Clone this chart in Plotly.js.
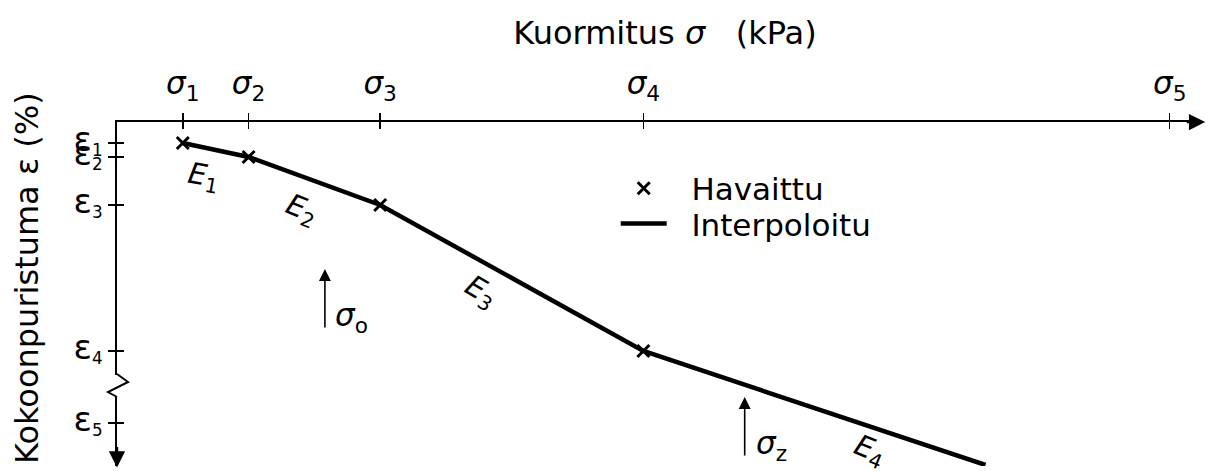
<!DOCTYPE html>
<html>
<head>
<meta charset="utf-8">
<script src="https://cdn.plot.ly/plotly-3.0.1.min.js"></script>
<style>
  html, body { margin: 0; padding: 0; background: #fff; }
  #chart { width: 1207px; height: 471px; }
</style>
</head>
<body>
<div id="chart"></div>
<script>
// Load steps (relative scale, doubling each step) and observed strains
const sigmaObs = [1, 2, 4, 8];
const epsObs = [1.05, 1.75, 4.15, 11.45];

// Interpolated curve: through the observed points, extended with slope E4
const sigmaLine = [1, 2, 4, 8, 13.2];
const epsLine = [1.05, 1.75, 4.15, 11.45, 17.15];

// Axis ticks
const sigmaTicks = [1, 2, 4, 8, 16];
const sigmaTickText = ['1', '2', '3', '4', '5'].map(n => '<i>σ</i><sub>' + n + '</sub>');
const epsTicks = [1.05, 1.75, 4.15, 11.45, 15.05];
const epsTickText = ['1', '2', '3', '4', '5'].map(n => '<span style="font-size:34px">ε</span><sub>' + n + '</sub>');

// Segment moduli labels
const modLabels = ['<i>E</i><sub>1</sub>', '<i>E</i><sub>2</sub>', '<i>E</i><sub>3</sub>', '<i>E</i><sub>4</sub>'];
const modSigma = [1.31, 2.80, 5.52, 11.44];
const modEps = [2.75, 4.40, 8.50, 16.45];
const modAngle = [10, 22, 31, 22];

// Reference stresses marked under the curve
const refLabels = ['<i>σ</i><sub>o</sub>', '<i>σ</i><sub>z</sub>'];
const refSigma = [3.16, 9.54];
const refEps = [7.35, 13.75];

const FONT = 'DejaVu Sans, Verdana, sans-serif';
const xRange = [0, 16.46];
const yRange = [17.2, 0];

const traces = [
  {
    x: sigmaObs, y: epsObs, xaxis: 'x2', yaxis: 'y2',
    type: 'scatter', mode: 'markers', name: '\u00a0\u00a0Havaittu', legend: 'legend',
    marker: { symbol: 'x-thin-open', size: 12, color: '#000', line: { width: 3, color: '#000' } },
    cliponaxis: false
  },
  {
    x: sigmaLine, y: epsLine, xaxis: 'x', yaxis: 'y',
    type: 'scatter', mode: 'lines', name: '\u00a0\u00a0Interpoloitu', legend: 'legend2',
    line: { color: '#000', width: 4.5 },
    cliponaxis: false
  }
];

const annotations = [];
// strain axis title, written along the axis
annotations.push({
  x: -0.0831, y: 0.5465, xref: 'paper', yref: 'paper',
  xanchor: 'center', yanchor: 'middle', textangle: -90,
  text: 'Kokoonpuristuma ε (%)', showarrow: false,
  font: { family: FONT, size: 32, color: '#000' }
});
modLabels.forEach((t, i) => {
  annotations.push({
    x: modSigma[i], y: modEps[i], xref: 'x', yref: 'y',
    text: t, showarrow: false, textangle: modAngle[i],
    font: { family: FONT, size: 29, color: '#000' }
  });
});
refLabels.forEach((t, i) => {
  // upward arrow pointing at the curve region
  annotations.push({
    x: refSigma[i], y: refEps[i], xref: 'x', yref: 'y',
    text: '', showarrow: true, arrowhead: 2, arrowsize: 1.5, arrowwidth: 1.6,
    arrowcolor: '#000', ax: 0, ay: 60, standoff: 0
  });
  annotations.push({
    x: refSigma[i], y: refEps[i], xref: 'x', yref: 'y',
    xshift: 27, yshift: -48, text: t, showarrow: false,
    font: { family: FONT, size: 31, color: '#000' }
  });
});
// axis arrowheads
annotations.push({
  x: 1.0048, y: 1, xref: 'paper', yref: 'paper', text: '',
  showarrow: true, arrowhead: 2, arrowsize: 1.3, arrowwidth: 2.5,
  arrowcolor: '#000', ax: -20, ay: 0, standoff: 0
});
annotations.push({
  x: 0, y: -0.004, xref: 'paper', yref: 'paper', text: '',
  showarrow: true, arrowhead: 2, arrowsize: 1.3, arrowwidth: 2.5,
  arrowcolor: '#000', ax: 0, ay: -22, standoff: 0
});

const shapes = [
  // break in the strain axis
  {
    type: 'rect', layer: 'above', xref: 'paper', yref: 'y',
    xsizemode: 'pixel', xanchor: 0, x0: -4, x1: 4,
    ysizemode: 'pixel', yanchor: 13.15, y0: -12, y1: 10,
    fillcolor: '#fff', line: { width: 0 }
  },
  {
    type: 'path', layer: 'above', xref: 'paper', yref: 'y',
    xsizemode: 'pixel', xanchor: 0, ysizemode: 'pixel', yanchor: 13.15,
    path: 'M0,11 L11,3 L-9,-7 L0,-12',
    line: { color: '#000', width: 2 }
  }
];

const axisCommon = {
  showgrid: false, zeroline: false, fixedrange: true,
  linecolor: '#000', tickcolor: '#000'
};

const legendCommon = {
  xanchor: 'left', yanchor: 'top',
  bgcolor: 'rgba(0,0,0,0)', borderwidth: 0,
  font: { family: FONT, size: 31, color: '#000' },
  itemwidth: 46
};

const layout = {
  width: 1207, height: 471,
  margin: { l: 117, r: 7, t: 122, b: 5, pad: 0 },
  paper_bgcolor: '#fff', plot_bgcolor: '#fff',
  font: { family: FONT, color: '#000' },
  title: {
    text: 'Kuormitus <i>σ</i>\u00a0\u00a0\u00a0(kPa)',
    x: 0.506, xref: 'paper', xanchor: 'center',
    y: 0.93, yref: 'container', yanchor: 'middle',
    font: { family: FONT, size: 32, color: '#000' }
  },
  xaxis: Object.assign({}, axisCommon, {
    side: 'top', range: xRange, autorange: false,
    showline: true, linewidth: 2.5,
    ticks: 'outside', ticklen: 7, tickwidth: 1.5,
    tickmode: 'array', tickvals: sigmaTicks, ticktext: sigmaTickText,
    ticklabelstandoff: 6,
    tickfont: { family: FONT, size: 31, color: '#000' }
  }),
  xaxis2: Object.assign({}, axisCommon, {
    overlaying: 'x', anchor: 'y', side: 'top', range: xRange, autorange: false,
    showline: false, ticks: 'inside', ticklen: 7, tickwidth: 1.5,
    tickmode: 'array', tickvals: sigmaTicks, showticklabels: false
  }),
  yaxis: Object.assign({}, axisCommon, {
    range: yRange, autorange: false,
    showline: true, linewidth: 2.5,
    ticks: 'outside', ticklen: 7, tickwidth: 1.5,
    tickmode: 'array', tickvals: epsTicks, ticktext: epsTickText,
    tickfont: { family: FONT, size: 24, color: '#000' }
  }),
  yaxis2: Object.assign({}, axisCommon, {
    overlaying: 'y', anchor: 'x', side: 'left', range: yRange, autorange: false,
    showline: false, ticks: 'inside', ticklen: 7, tickwidth: 1.5,
    tickmode: 'array', tickvals: epsTicks, showticklabels: false
  }),
  showlegend: true,
  legend: Object.assign({ x: 0.4605, y: 0.885 }, legendCommon),
  legend2: Object.assign({ x: 0.4605, y: 0.7826 }, legendCommon),
  annotations: annotations,
  shapes: shapes
};

Plotly.newPlot('chart', traces, layout, { staticPlot: true, displayModeBar: false });
</script>
</body>
</html>
